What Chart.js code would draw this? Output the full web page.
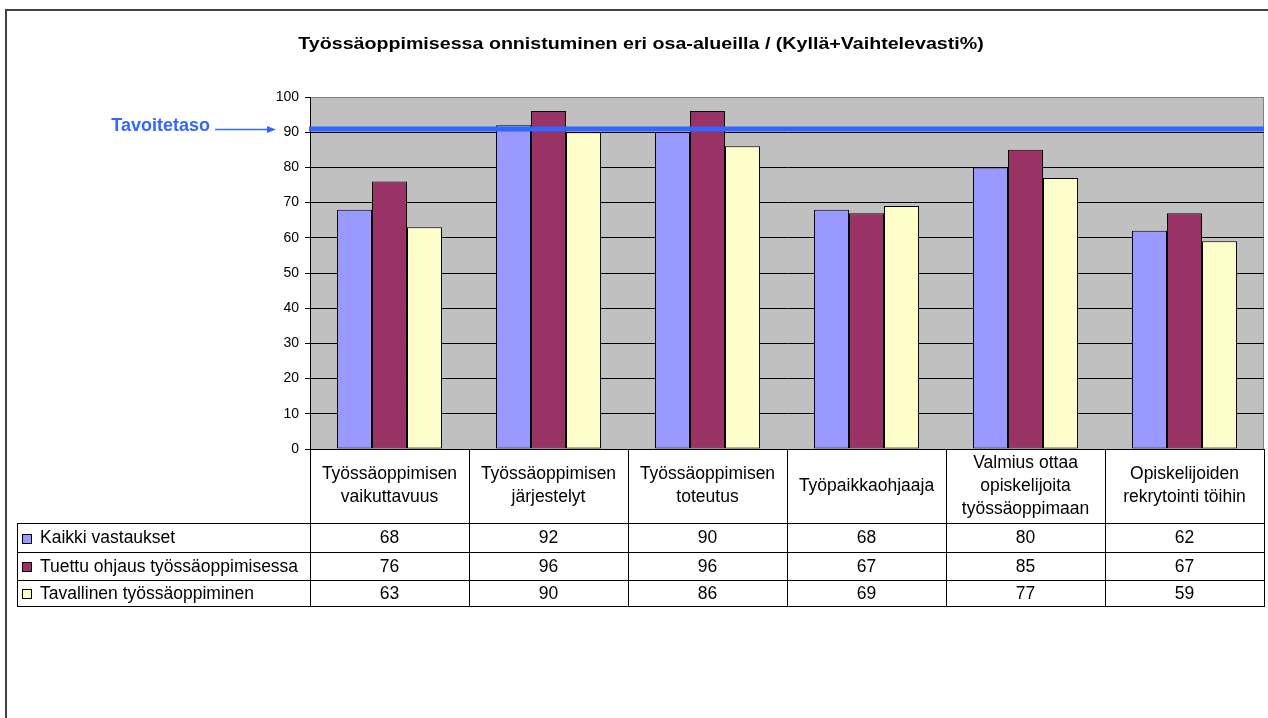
<!DOCTYPE html>
<html>
<head>
<meta charset="utf-8">
<script src="https://cdn.jsdelivr.net/npm/chart.js@4/dist/chart.umd.min.js"></script>
<style>
	html, body { margin: 0; padding: 0; background: #fff; }
	#wrap { width: 1268px; height: 718px; }
</style>
</head>
<body>
<div id="wrap"><canvas id="diagram" width="1268" height="718"></canvas></div>
<script>
const chartTitle = 'Työssäoppimisessa onnistuminen eri osa-alueilla / (Kyllä+Vaihtelevasti%)';

const categories = [
	['Työssäoppimisen', 'vaikuttavuus'],
	['Työssäoppimisen', 'järjestelyt'],
	['Työssäoppimisen', 'toteutus'],
	['Työpaikkaohjaaja'],
	['Valmius ottaa', 'opiskelijoita', 'työssäoppimaan'],
	['Opiskelijoiden', 'rekrytointi töihin']
];

const seriesNames = ['Kaikki vastaukset', 'Tuettu ohjaus työssäoppimisessa', 'Tavallinen työssäoppiminen'];
const kaikki = [68, 92, 90, 68, 80, 62];
const tuettu = [76, 96, 96, 67, 85, 67];
const tavallinen = [63, 90, 86, 69, 77, 59];

const yTicks = [0, 10, 20, 30, 40, 50, 60, 70, 80, 90, 100];
const targetLabel = 'Tavoitetaso';
const targetLevel = 91;

const FONT = 'Arial, "Liberation Sans", sans-serif';
const colors = ['#9999ff', '#993366', '#ffffcc'];

// table row borders below the plot (y pixels)
const tableRows = [523, 552, 580, 606];

const excelLook = {
	id: 'excelLook',
	beforeDraw(chart) {
		const ctx = chart.ctx;
		const a = chart.chartArea;
		ctx.save();
		ctx.fillStyle = '#fff';
		ctx.fillRect(0, 0, chart.width, chart.height);
		// outer frame
		ctx.strokeStyle = '#404040';
		ctx.lineWidth = 2;
		ctx.strokeRect(6, 10, chart.width + 10, chart.height + 10);
		// plot area
		ctx.fillStyle = '#c0c0c0';
		ctx.fillRect(a.left, a.top, a.right - a.left, a.bottom - a.top);
		ctx.strokeStyle = '#808080';
		ctx.lineWidth = 1;
		ctx.strokeRect(a.left + 0.5, a.top + 0.5, a.right - a.left - 1, a.bottom - a.top);

		// title, Excel renders it a bit wider
		ctx.fillStyle = '#000';
		ctx.font = 'bold 16.5px ' + FONT;
		ctx.textAlign = 'center';
		ctx.textBaseline = 'middle';
		ctx.translate(641, 44);
		ctx.scale(1.19, 1);
		ctx.fillText(chartTitle, 0, 0);
		ctx.restore();
	},
	afterDatasetsDraw(chart) {
		const ctx = chart.ctx;
		const a = chart.chartArea;
		const y = Math.round(chart.scales.y.getPixelForValue(targetLevel));
		ctx.save();
		ctx.strokeStyle = '#3366ff';
		ctx.lineWidth = 5;
		ctx.beginPath();
		ctx.moveTo(a.left - 1, y);
		ctx.lineTo(a.right, y);
		ctx.stroke();

		// label + arrow
		ctx.fillStyle = '#3366ff';
		ctx.font = 'bold 18px ' + FONT;
		ctx.textAlign = 'right';
		ctx.textBaseline = 'middle';
		ctx.fillText(targetLabel, 210, y - 3);
		ctx.lineWidth = 1.5;
		ctx.beginPath();
		ctx.moveTo(215, y + 0.5);
		ctx.lineTo(268, y + 0.5);
		ctx.stroke();
		ctx.beginPath();
		ctx.moveTo(276, y + 0.5);
		ctx.lineTo(267, y - 3);
		ctx.lineTo(267, y + 4);
		ctx.closePath();
		ctx.fill();
		ctx.restore();
	},
	afterDraw(chart) {
		const ctx = chart.ctx;
		const a = chart.chartArea;
		const xs = chart.scales.x;
		const n = categories.length;
		const colW = (a.right - a.left) / n;
		const tableLeft = 17;
		const rows = [kaikki, tuettu, tavallinen];

		ctx.save();
		ctx.strokeStyle = '#000';
		ctx.lineWidth = 1;
		ctx.beginPath();
		// column separators
		for (let i = 0; i <= n; i++) {
			const x = Math.round(a.left + i * colW) + 0.5;
			ctx.moveTo(x, a.bottom);
			ctx.lineTo(x, tableRows[3]);
		}
		// row lines
		tableRows.forEach(ry => {
			ctx.moveTo(tableLeft, ry + 0.5);
			ctx.lineTo(a.right + 1, ry + 0.5);
		});
		ctx.moveTo(tableLeft + 0.5, tableRows[0]);
		ctx.lineTo(tableLeft + 0.5, tableRows[3]);
		ctx.stroke();

		// header labels
		ctx.fillStyle = '#000';
		ctx.font = '17.5px ' + FONT;
		ctx.textAlign = 'center';
		ctx.textBaseline = 'middle';
		const headMid = (a.bottom + tableRows[0]) / 2;
		const lh = 23;
		categories.forEach((lines, i) => {
			const cx = xs.getPixelForValue(i);
			const start = headMid - (lines.length - 1) * lh / 2;
			lines.forEach((t, j) => ctx.fillText(t, cx, start + j * lh));
		});

		// values + legend keys
		rows.forEach((vals, r) => {
			const mid = (tableRows[r] + tableRows[r + 1]) / 2 + 1;
			ctx.textAlign = 'center';
			vals.forEach((v, i) => ctx.fillText(String(v), xs.getPixelForValue(i), mid));
			ctx.fillStyle = colors[r];
			ctx.fillRect(22, Math.round(mid) - 5, 10, 10);
			ctx.strokeStyle = '#000';
			ctx.strokeRect(22.5, Math.round(mid) - 4.5, 9, 9);
			ctx.fillStyle = '#000';
			ctx.textAlign = 'left';
			ctx.fillText(seriesNames[r], 40, mid);
		});
		ctx.restore();
	}
};

const chart = new Chart(document.getElementById('diagram'), {
	type: 'bar',
	data: {
		labels: categories,
		datasets: [kaikki, tuettu, tavallinen].map((d, i) => ({
			label: seriesNames[i],
			data: d,
			backgroundColor: colors[i],
			borderColor: '#000',
			borderWidth: 1,
			borderSkipped: false,
			categoryPercentage: 0.66,
			barPercentage: 1
		}))
	},
	options: {
		responsive: false,
		animation: false,
		layout: { padding: { left: 0, right: 4, top: 97, bottom: 0 } },
		plugins: {
			legend: { display: false },
			tooltip: { enabled: false },
			title: { display: false }
		},
		scales: {
			x: {
				grid: { display: false },
				border: { display: false },
				ticks: { display: false },
				afterFit(scale) { scale.height = 718 - 449; }
			},
			y: {
				min: 0,
				max: 100,
				afterBuildTicks(scale) { scale.ticks = yTicks.map(v => ({ value: v })); },
				afterFit(scale) { scale.width = 310; },
				ticks: {
					color: '#000',
					font: { family: FONT, size: 14 },
					padding: 6
				},
				grid: {
					color: ctx => ctx.tick && ctx.tick.value === 100 ? '#808080' : '#000',
					tickColor: '#000',
					tickLength: 5,
					lineWidth: 1
				},
				border: { display: true, color: '#000' }
			}
		}
	},
	plugins: [excelLook]
});
</script>
</body>
</html>
